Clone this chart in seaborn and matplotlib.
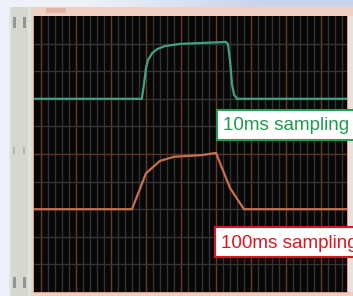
import numpy as np
import pandas as pd
import matplotlib
matplotlib.use("Agg")
import matplotlib.pyplot as plt
import matplotlib.patches as mpatches
import seaborn as sns

# ===== data (time in ms, level in grid divisions) =====
fast_t = [0, 770, 785, 800, 815, 845, 880, 935, 1045, 1185, 1370, 1385, 1400, 1415, 1430, 1450, 2240]
fast_v = [7.0, 7.0, 7.5, 8.12, 8.41, 8.66, 8.8, 8.91, 8.99, 9.02, 9.06, 8.99, 8.41, 7.5, 7.14, 7.0, 7.0]

slow_t = [0, 700, 800, 900, 1000, 1100, 1200, 1300, 1400, 1500, 2240]
slow_v = [3.0, 3.0, 4.3, 4.75, 4.9, 4.93, 4.96, 5.04, 3.77, 3.0, 3.0]

label_fast = "10ms sampling"
label_slow = "100ms sampling"

W, H = 353, 296
BG = "#070707"
GREEN = "#3fa383"
ORANGE = "#c9714f"

sns.set_theme(style="dark")
plt.rcParams["font.family"] = ["Liberation Sans", "DejaVu Sans"]

fig = plt.figure(figsize=(W / 100, H / 100), dpi=100)

# ---- window chrome, drawn in pixel coords ----
bg = fig.add_axes([0, 0, 1, 1], zorder=0)
bg.set_xlim(0, W)
bg.set_ylim(H, 0)
bg.axis("off")
grad = np.array([[0.0, 1.0], [0.0, 0.3]])
cmap_bg = matplotlib.colors.LinearSegmentedColormap.from_list("bgc", ["#eef1f9", "#cbd3eb"])
bg.imshow(grad, cmap=cmap_bg, extent=(0, W, H, 0), interpolation="bilinear", aspect="auto")

def box(x0, y0, x1, y1, color, **kw):
    bg.add_patch(mpatches.Rectangle((x0, y0), x1 - x0, y1 - y0, facecolor=color, edgecolor="none", **kw))

box(9, 7, W, H, "#e6ddd8")          # window body
box(9, 7, 33, H, "#d6d7cf")         # left panel
box(9, 7, 11, H, "#e4e5e0")
box(28, 7, 31, H, "#e2e2dc")
box(33, 7, W, 16, "#f1d0c4")        # title strip
box(46, 8, 66, 13, "#e2b4a4")
box(33, 292, W, H, "#ebcfc4")       # bottom strip
box(347, 16, W, 292, "#e9e1dd")     # right frame
for yy in (17, 277):
    box(13, yy, 15.5, yy + 11, "#8f9696")
    box(23, yy, 25.5, yy + 11, "#8f9696")
for yy in (147,):
    box(13, yy, 15, yy + 7, "#b0b5b5")
    box(23, yy, 25, yy + 7, "#b0b5b5")
box(32.5, 15.5, 347.5, 292.5, "#e39b80")   # salmon border

# ---- scope screen ----
ax = fig.add_axes([34 / W, (H - 292) / H, 313 / W, 276 / H], zorder=1)
ax.set_facecolor(BG)
xmin, xmax = 0, 2236
ax.set_xlim(xmin, xmax)
ax.set_ylim(0, 10)

for xv in np.arange(50, xmax, 50):
    major = (xv - 50) % 250 == 0
    ax.axvline(xv, color="#6b3a2b" if major else "#333333", lw=1.0, zorder=1)
for yv in range(1, 10):
    ax.axhline(yv, color="#5a3426" if yv == 5 else "#343434", lw=1.0, zorder=1)

fast = pd.DataFrame({"t": fast_t, "v": fast_v})
slow = pd.DataFrame({"t": slow_t, "v": slow_v})
sns.lineplot(data=fast, x="t", y="v", ax=ax, color=GREEN, lw=1.6, zorder=3, estimator=None, sort=False)
sns.lineplot(data=slow, x="t", y="v", ax=ax, color=ORANGE, lw=1.6, zorder=3, estimator=None, sort=False)

ax.set_xticks([])
ax.set_yticks([])
ax.set_xlabel("")
ax.set_ylabel("")
ax.grid(False)
for s in ax.spines.values():
    s.set_visible(False)

# ---- label boxes ----
ov = fig.add_axes([0, 0, 1, 1], zorder=2)
ov.set_xlim(0, W)
ov.set_ylim(H, 0)
ov.axis("off")
ov.patch.set_alpha(0)

ov.add_patch(mpatches.Rectangle((217, 110), 150, 29.5, facecolor="white", edgecolor="#2a9a52", lw=1.5))
ov.text(223, 125.5, label_fast, color="#1f9a4c", fontsize=13.6, va="center", ha="left")
ov.add_patch(mpatches.Rectangle((215, 227), 150, 30, facecolor="white", edgecolor="#e0141f", lw=1.5))
ov.text(221, 243, label_slow, color="#e0141f", fontsize=13.6, va="center", ha="left")

fig.savefig("out.png", dpi=100)
